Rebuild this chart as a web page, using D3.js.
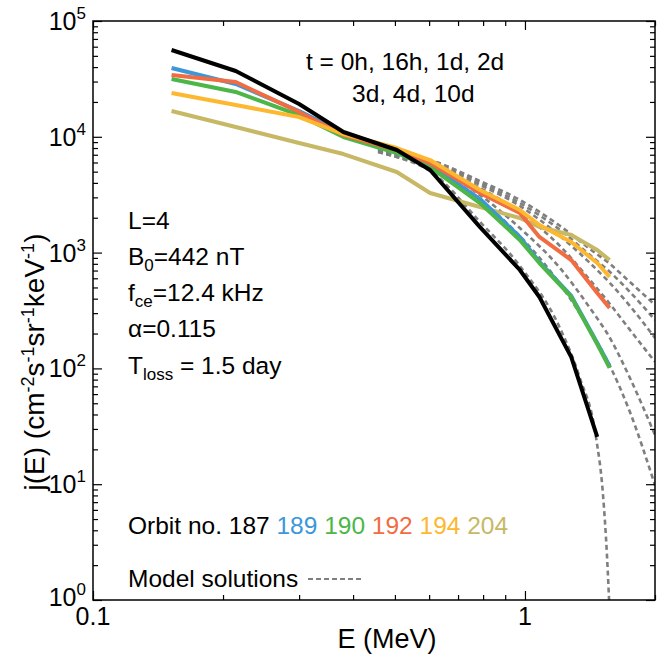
<!DOCTYPE html>
<html><head><meta charset="utf-8">
<script src="https://cdn.jsdelivr.net/npm/d3@7"></script>
<style>body{margin:0;background:#fff} text{font-family:"Liberation Sans",Arial,Helvetica,sans-serif;fill:#000}</style>
</head><body><svg id="c" width="663" height="658"></svg>
<script>
// ---- data ----
const energies = [0.152, 0.214, 0.30, 0.38, 0.505, 0.603, 0.787, 0.973, 1.08, 1.28, 1.47, 1.57];
const orbitLabels = ["187", "189", "190", "192", "194", "204"];
const orbitColors = ["#000000", "#3b97d8", "#4cb648", "#f26c42", "#fdb830", "#c7b865"];
const orbit187 = [56200, 37000, 19200, 11000, 7690, 5170, 1660, 708, 414, 125, 25.6, null];
const orbit189 = [39300, 28600, 16700, 10800, 7690, 5710, 2900, 1364, 830, 422, 166, 105];
const orbit190 = [31600, 24400, 15400, 9960, 7250, 5480, 2680, 1285, 813, 414, 162, 101];
const orbit192 = [34200, 29700, 16400, 10370, 7690, 5940, 3270, 2198, 1364, 863, 448, 332];
const orbit194 = [23900, 18800, 14800, 10570, 8000, 6300, 3470, 2330, 1730, 1235, 813, 615];
const orbit204 = [16700, 12150, 8840, 7100, 4965, 3270, 2475, 1990, 1663, 1420, 1053, 863];

const model0hE = [0.457, 0.505, 0.603, 0.787, 0.973, 1.205, 1.34, 1.46, 1.516, 1.548, 1.573];
const model0h  = [7390, 6690, 5070, 1840, 766, 223, 82.6, 25.6, 8.07, 2.45, 0.67];
const modelE   = [0.457, 0.505, 0.603, 0.787, 0.973, 1.205, 1.414, 1.573, 1.75, 2.0];
const model16h = [7390, 6690, 5380, 2850, 1390, 536, 215, 105, 42, 9.8];
const model1d  = [7540, 6830, 5600, 3140, 1630, 736, 332, 183, 82.6, 26.6];
const model2d  = [7690, 6960, 5820, 3610, 2240, 1140, 580, 360, 215, 114];
const model3d  = [7690, 7100, 6060, 3840, 2530, 1390, 813, 546, 346, 183];
const model4d  = [7850, 7100, 6180, 3990, 2680, 1570, 953, 680, 457, 262];
const model10d = [7850, 7250, 6310, 4150, 2850, 1700, 1075, 797, 557, 353];

const xDomain = [0.1, 2];
const yDomain = [1, 1e5];
const xMajor = [0.1, 1];
const xMajorLabels = ["0.1", "1"];
const yMajor = [1, 10, 100, 1000, 10000, 100000];
const yExponents = ["0", "1", "2", "3", "4", "5"];

// ---- layout ----
const L = 93, T = 21, R = 655, B = 600;
const svg = d3.select("#c");
const x = d3.scaleLog().domain(xDomain).range([L, R]);
const y = d3.scaleLog().domain(yDomain).range([B, T]);

svg.append("defs").append("clipPath").attr("id", "clip")
  .append("rect").attr("x", L).attr("y", T).attr("width", R - L).attr("height", B - T);

// model curves (dashed)
const models = [
  [model0hE, model0h], [modelE, model16h], [modelE, model1d], [modelE, model2d],
  [modelE, model3d], [modelE, model4d], [modelE, model10d]
];
const mline = d3.line().x(d => x(d[0])).y(d => y(d[1])).curve(d3.curveMonotoneX);
const gm = svg.append("g").attr("clip-path", "url(#clip)");
models.forEach(([es, vs]) => {
  gm.append("path").attr("d", mline(es.map((e, i) => [e, vs[i]])))
    .attr("fill", "none").attr("stroke", "#7f7f80").attr("stroke-width", 2.6)
    .attr("stroke-dasharray", "5,3.5");
});

// observed spectra
const series = [orbit204, orbit194, orbit192, orbit190, orbit189, orbit187];
const scol = [orbitColors[5], orbitColors[4], orbitColors[3], orbitColors[2], orbitColors[1], orbitColors[0]];
const dline = d3.line().defined(d => d[1] != null).x(d => x(d[0])).y(d => y(d[1]));
const go = svg.append("g").attr("clip-path", "url(#clip)");
const order = [0, 4, 3, 2, 1, 5];
order.forEach(k => {
  go.append("path").attr("d", dline(energies.map((e, i) => [e, series[k][i]])))
    .attr("fill", "none").attr("stroke", scol[k]).attr("stroke-width", 4)
    .attr("stroke-linejoin", "round");
});

// ---- axes / ticks ----
const xMinor = x.ticks().filter(v => !xMajor.includes(v));
const yMinor = y.ticks().filter(v => !yMajor.includes(v));
function addAxis(axisFn, scale, pos, vals, size) {
  const g = svg.append("g").attr("transform", pos)
    .call(axisFn(scale).tickValues(vals).tickSize(size).tickFormat(""));
  g.select(".domain").remove();
  g.selectAll("line").attr("stroke", "#000").attr("stroke-width", 1.2);
}
addAxis(d3.axisBottom, x, `translate(0,${B})`, xMajor, -9);
addAxis(d3.axisBottom, x, `translate(0,${B})`, xMinor, -5);
addAxis(d3.axisTop, x, `translate(0,${T})`, xMajor, -9);
addAxis(d3.axisTop, x, `translate(0,${T})`, xMinor, -5);
addAxis(d3.axisLeft, y, `translate(${L},0)`, yMajor, -9);
addAxis(d3.axisLeft, y, `translate(${L},0)`, yMinor, -5);
addAxis(d3.axisRight, y, `translate(${R},0)`, yMajor, -9);
addAxis(d3.axisRight, y, `translate(${R},0)`, yMinor, -5);

svg.append("rect").attr("x", L).attr("y", T).attr("width", R - L).attr("height", B - T)
  .attr("fill", "none").attr("stroke", "#000").attr("stroke-width", 1.5);

// tick labels
xMajor.forEach((v, i) => {
  svg.append("text").attr("x", x(v)).attr("y", B + 25).attr("text-anchor", "middle")
    .attr("font-size", 25).text(xMajorLabels[i]);
});
yMajor.forEach((v, i) => {
  const t = svg.append("text").attr("x", 86).attr("y", y(v) + (i === 0 ? 6 : 9)).attr("text-anchor", "end")
    .attr("font-size", 25);
  t.append("tspan").text("10");
  t.append("tspan").attr("dy", -11).attr("font-size", 17).text(yExponents[i]);
});

// axis titles
svg.append("text").attr("x", 387).attr("y", 648).attr("text-anchor", "middle")
  .attr("font-size", 27).text("E (MeV)");
const yl = svg.append("text").attr("transform", "translate(44,362) rotate(-90)")
  .attr("text-anchor", "middle").attr("font-size", 28);
yl.append("tspan").text("j(E) (cm");
yl.append("tspan").attr("dy", -10).attr("font-size", 18).text("-2");
yl.append("tspan").attr("dy", 10).text("s");
yl.append("tspan").attr("dy", -10).attr("font-size", 18).text("-1");
yl.append("tspan").attr("dy", 10).text("sr");
yl.append("tspan").attr("dy", -10).attr("font-size", 18).text("-1");
yl.append("tspan").attr("dy", 10).text("keV");
yl.append("tspan").attr("dy", -10).attr("font-size", 18).text("-1");
yl.append("tspan").attr("dy", 10).text(")");

// annotations
const fs = 24.5;
svg.append("text").attr("x", 306).attr("y", 70).attr("font-size", fs).text("t = 0h, 16h, 1d, 2d");
svg.append("text").attr("x", 352).attr("y", 102).attr("font-size", fs).text("3d, 4d, 10d");

function para(yb, parts) {
  const t = svg.append("text").attr("x", 128).attr("y", yb).attr("font-size", fs);
  parts.forEach(p => {
    const s = t.append("tspan").text(p[0]);
    if (p[1] === "sub") s.attr("dy", 6).attr("font-size", 17);
    if (p[1] === "back") s.attr("dy", -6);
  });
}
para(229, [["L=4"]]);
para(265, [["B"], ["0", "sub"], ["=442 nT", "back"]]);
para(301, [["f"], ["ce", "sub"], ["=12.4 kHz", "back"]]);
para(337, [["\u03b1=0.115"]]);
para(374, [["T"], ["loss", "sub"], [" = 1.5 day", "back"]]);

// orbit legend
const ot = svg.append("text").attr("x", 128).attr("y", 534).attr("font-size", fs);
ot.append("tspan").text("Orbit no.");
orbitLabels.forEach((lab, i) => {
  ot.append("tspan").style("fill", orbitColors[i]).text(" " + lab);
});
svg.append("text").attr("x", 128).attr("y", 587).attr("font-size", fs).text("Model solutions");
svg.append("line").attr("x1", 308).attr("x2", 362).attr("y1", 579).attr("y2", 579)
  .attr("stroke", "#7f7f80").attr("stroke-width", 2).attr("stroke-dasharray", "5,3");
</script></body></html>
